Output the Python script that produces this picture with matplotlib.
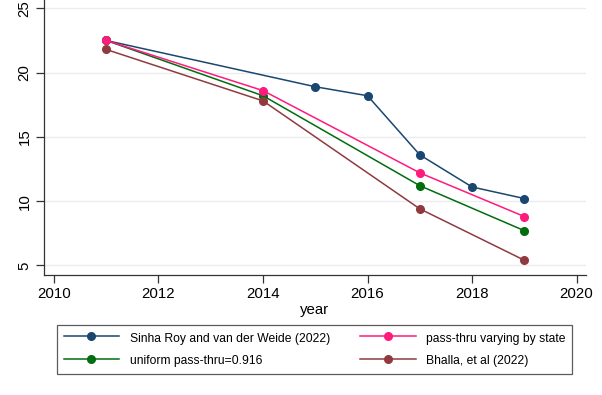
import matplotlib
matplotlib.use('Agg')
import matplotlib.pyplot as plt

plt.rcParams['font.family'] = ['Liberation Sans', 'DejaVu Sans']

years_sr = [2011, 2015, 2016, 2017, 2018, 2019]
sinha_roy = [22.5, 18.9, 18.2, 13.6, 11.1, 10.2]
years = [2011, 2014, 2017, 2019]
pass_thru_state = [22.5, 18.6, 12.2, 8.8]
uniform_pass_thru = [22.5, 18.2, 11.2, 7.7]
bhalla = [21.8, 17.8, 9.4, 5.4]

labels = ['Sinha Roy and van der Weide (2022)', 'pass-thru varying by state',
          'uniform pass-thru=0.916', 'Bhalla, et al (2022)']
xticks = [2010, 2012, 2014, 2016, 2018, 2020]
yticks = [5, 10, 15, 20, 25]

fig = plt.figure(figsize=(6.02, 3.95), dpi=100)
ax = fig.add_axes([44/602, 1 - 275/395, (586-44)/602, 275/395])

kw = dict(marker='o', markersize=5.5, linewidth=1.1)
l1, = ax.plot(years_sr, sinha_roy, color='#1a476f', label=labels[0], zorder=3, **kw)
l3, = ax.plot(years, uniform_pass_thru, color='#006d0f', label=labels[2], zorder=4, **kw)
l2, = ax.plot(years, pass_thru_state, color='#ff1a7d', label=labels[1], zorder=5, **kw)
l4, = ax.plot(years, bhalla, color='#903a3f', label=labels[3], zorder=6, **kw)

ax.set_xlim(2009.81, 2020.18)
ax.set_ylim(4.25, 25.65)
ax.set_xticks(xticks)
ax.set_yticks(yticks)
ax.set_yticklabels([str(v) for v in yticks], rotation=90, va='center')
ax.tick_params(axis='both', labelsize=10.8, length=6, width=0.9, color='#333333', pad=3)
ax.grid(axis='y', color='#ececf0', linewidth=1)
ax.set_axisbelow(True)
for s in ['top', 'right']:
    ax.spines[s].set_visible(False)
for s in ['left', 'bottom']:
    ax.spines[s].set_color('#333333')
    ax.spines[s].set_linewidth(0.9)
ax.set_xlabel('year', fontsize=10.8, labelpad=1)

# legend: two columns, row order as in the reference
leg = fig.legend([l1, l3, l2, l4], [labels[0], labels[2], labels[1], labels[3]],
                 ncol=2, loc='upper left',
                 bbox_to_anchor=(57/602, 1 - 324.5/395),
                 fontsize=8.7, handlelength=4.6, handletextpad=0.85,
                 handleheight=1.25, columnspacing=2.5, labelspacing=0.75,
                 borderpad=0.55, borderaxespad=0, fancybox=False, frameon=True)
leg.get_frame().set_edgecolor('#333333')
leg.get_frame().set_linewidth(0.9)

fig.savefig('out.png', dpi=100)
